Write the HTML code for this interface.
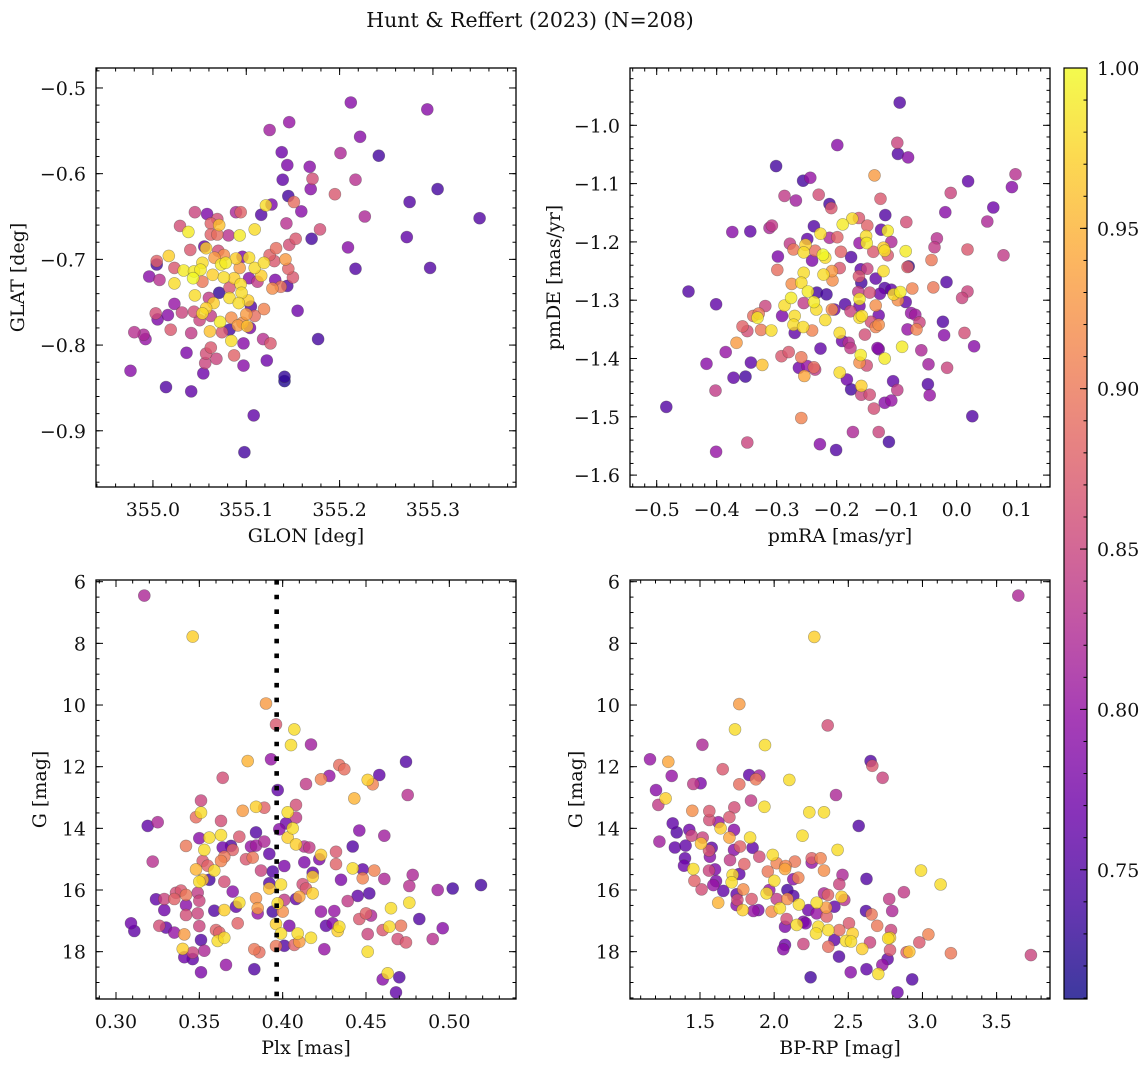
<!DOCTYPE html>
<html><head><meta charset="utf-8">
<style>
html,body{margin:0;padding:0;background:#fff;}
svg{display:block;font-family:"DejaVu Serif","Liberation Serif",serif;}
</style></head>
<body>
<svg id="fig" width="1148" height="1067" viewBox="0 0 1148 1067" xmlns="http://www.w3.org/2000/svg">
<text x="530" y="27" font-size="20.5" text-anchor="middle" fill="#111">Hunt &amp; Reffert (2023) (N=208)</text>
</svg>
<script>
// ---------- Panel 1: GLON / GLAT ----------
const p1Glon=[355.212,355.294,355.146,355.125,355.222,355.138,355.201,355.242,355.144,355.168,
355.139,355.171,355.217,355.169,355.305,355.195,355.145,355.151,355.275,355.159,
355.227,355.350,355.143,355.179,355.170,355.272,355.209,355.217,355.297,355.155,
355.177,355.141,355.141,355.108,355.098,354.976,355.014,355.041,355.054,355.097,
355.122,355.036,354.980,354.992,354.990,355.019,355.041,355.003,355.005,355.016,
355.023,355.031,354.996,355.007,355.004,355.004,355.017,355.023,355.023,355.033,
355.029,355.038,355.045,355.058,355.069,355.062,355.071,355.089,355.094,355.093,
355.109,355.116,355.121,355.127,355.081,355.062,355.069,355.040,355.055,355.057,
355.070,355.076,355.066,355.053,355.044,355.051,355.043,355.053,355.064,355.073,
355.078,355.089,355.096,355.103,355.093,355.109,355.119,355.125,355.132,355.142,
355.130,355.146,355.153,355.145,355.150,355.116,355.112,355.103,355.131,355.144,
355.128,355.137,355.076,355.087,355.094,355.082,355.071,355.095,355.045,355.060,
355.065,355.082,355.092,355.102,355.105,355.119,355.057,355.053,355.044,355.062,
355.050,355.072,355.084,355.100,355.109,355.096,355.091,355.101,355.104,355.082,
355.074,355.061,355.084,355.097,355.118,355.126,355.062,355.057,355.068,355.056,
355.087];
const p1Glat=[-0.517,-0.525,-0.540,-0.549,-0.557,-0.575,-0.576,-0.579,-0.590,-0.592,
-0.607,-0.606,-0.607,-0.618,-0.618,-0.624,-0.626,-0.633,-0.633,-0.644,
-0.650,-0.652,-0.658,-0.665,-0.676,-0.674,-0.686,-0.711,-0.710,-0.760,
-0.793,-0.837,-0.842,-0.882,-0.925,-0.830,-0.849,-0.854,-0.833,-0.824,
-0.818,-0.809,-0.785,-0.793,-0.788,-0.782,-0.786,-0.763,-0.770,-0.765,
-0.752,-0.762,-0.720,-0.724,-0.702,-0.706,-0.696,-0.710,-0.728,-0.713,
-0.661,-0.668,-0.645,-0.647,-0.653,-0.658,-0.660,-0.645,-0.645,-0.672,
-0.665,-0.648,-0.637,-0.636,-0.672,-0.671,-0.671,-0.689,-0.685,-0.687,
-0.690,-0.695,-0.698,-0.704,-0.714,-0.712,-0.722,-0.726,-0.718,-0.706,
-0.704,-0.699,-0.697,-0.698,-0.710,-0.710,-0.704,-0.695,-0.687,-0.700,
-0.702,-0.683,-0.676,-0.711,-0.721,-0.719,-0.726,-0.722,-0.724,-0.731,
-0.734,-0.732,-0.721,-0.722,-0.729,-0.733,-0.739,-0.739,-0.742,-0.745,
-0.751,-0.745,-0.751,-0.748,-0.755,-0.758,-0.757,-0.763,-0.761,-0.766,
-0.771,-0.773,-0.768,-0.764,-0.766,-0.774,-0.777,-0.778,-0.780,-0.782,
-0.785,-0.784,-0.795,-0.798,-0.793,-0.798,-0.803,-0.810,-0.816,-0.821,
-0.812];
const p1Prob=[.79,.79,.80,.81,.79,.77,.82,.74,.78,.79,
.76,.86,.83,.79,.74,.87,.74,.89,.75,.79,
.82,.75,.83,.86,.74,.76,.79,.75,.75,.77,
.74,.73,.72,.76,.74,.79,.75,.76,.77,.79,
.77,.78,.83,.80,.82,.87,.84,.86,.78,.79,
.80,.85,.79,.83,.88,.74,.97,.87,.98,.99,
.86,.99,.85,.78,.86,.88,.96,.82,.88,.99,
.98,.75,.98,.78,.83,.88,.89,.87,.76,.97,
.86,.92,.93,.98,.99,.99,1.0,.90,.97,.99,
.99,.97,.78,.98,.93,.98,.98,.88,.89,.93,
.87,.86,.87,.88,.87,.97,.84,.79,.78,.75,
.92,.90,.98,.97,.98,.87,.73,.98,.98,.84,
.97,.98,.98,.97,.75,.91,.97,.98,.86,.84,
.85,.99,.92,.93,.89,.92,.93,.96,.78,.74,
.87,.96,.98,.79,.83,.87,.87,.86,.85,.85,
.88];
const p1XTicks=[355.0,355.1,355.2,355.3];
const p1YTicks=[-0.5,-0.6,-0.7,-0.8,-0.9];

// ---------- Panel 2: pmRA / pmDE ----------
const p2PmRA=[-0.095,-0.199,-0.099,-0.098,-0.081,-0.301,-0.137,-0.256,-0.244,0.019,
0.098,0.092,-0.287,-0.268,-0.230,-0.010,-0.212,-0.209,-0.127,-0.119,
-0.019,0.061,0.051,-0.163,-0.174,-0.190,-0.149,-0.084,-0.374,-0.344,
-0.312,-0.308,-0.238,-0.227,-0.126,-0.115,-0.151,-0.199,-0.212,-0.249,
-0.278,-0.272,-0.252,-0.255,-0.236,-0.223,-0.219,-0.241,-0.193,-0.176,
-0.162,-0.150,-0.139,-0.122,-0.109,-0.115,-0.120,-0.085,-0.037,-0.033,
-0.042,0.018,0.078,-0.298,-0.299,-0.255,-0.222,-0.208,-0.207,-0.195,
-0.160,-0.149,-0.163,-0.159,-0.135,-0.122,-0.082,-0.080,-0.017,-0.275,
-0.259,-0.248,-0.233,-0.217,-0.164,-0.145,-0.128,-0.120,-0.109,-0.105,
-0.094,-0.098,-0.085,-0.074,-0.039,0.018,0.009,-0.276,-0.287,-0.255,
-0.238,-0.234,-0.208,-0.204,-0.186,-0.177,-0.162,-0.162,-0.135,-0.319,
-0.330,-0.339,-0.332,-0.291,-0.270,-0.272,-0.256,-0.219,-0.162,-0.158,
-0.143,-0.130,-0.130,-0.135,-0.076,-0.069,-0.062,-0.067,-0.082,-0.023,
-0.021,0.013,0.029,-0.357,-0.349,-0.326,-0.309,-0.270,-0.241,-0.195,
-0.191,-0.180,-0.177,-0.153,-0.132,-0.130,-0.091,-0.059,-0.367,-0.385,
-0.227,-0.160,-0.120,-0.162,-0.150,-0.292,-0.280,-0.259,-0.417,-0.343,
-0.324,-0.263,-0.249,-0.238,-0.236,-0.254,-0.047,-0.016,-0.372,-0.352,
-0.195,-0.183,-0.176,-0.159,-0.106,-0.099,-0.048,-0.045,-0.402,-0.159,
-0.145,-0.120,-0.109,-0.138,-0.484,-0.259,0.026,-0.173,-0.130,-0.349,
-0.228,-0.113,-0.201,-0.401,-0.447,-0.401];
const p2PmDE=[-0.961,-1.034,-1.030,-1.049,-1.055,-1.070,-1.086,-1.095,-1.090,-1.096,
-1.084,-1.106,-1.121,-1.129,-1.119,-1.116,-1.135,-1.142,-1.126,-1.154,
-1.149,-1.141,-1.165,-1.159,-1.160,-1.170,-1.172,-1.166,-1.183,-1.182,
-1.176,-1.172,-1.173,-1.186,-1.179,-1.181,-1.190,-1.192,-1.193,-1.195,
-1.203,-1.213,-1.205,-1.218,-1.215,-1.222,-1.227,-1.232,-1.217,-1.226,
-1.202,-1.202,-1.217,-1.210,-1.200,-1.223,-1.215,-1.216,-1.209,-1.194,
-1.231,-1.213,-1.223,-1.225,-1.248,-1.253,-1.256,-1.250,-1.266,-1.245,
-1.247,-1.246,-1.259,-1.270,-1.263,-1.250,-1.243,-1.242,-1.269,-1.272,
-1.270,-1.285,-1.287,-1.290,-1.286,-1.287,-1.289,-1.279,-1.282,-1.290,
-1.286,-1.300,-1.303,-1.280,-1.278,-1.285,-1.296,-1.296,-1.309,-1.305,
-1.303,-1.316,-1.316,-1.316,-1.307,-1.319,-1.298,-1.310,-1.309,-1.310,
-1.323,-1.327,-1.330,-1.327,-1.327,-1.342,-1.346,-1.334,-1.330,-1.327,
-1.337,-1.326,-1.342,-1.346,-1.322,-1.325,-1.338,-1.350,-1.350,-1.337,
-1.360,-1.356,-1.379,-1.345,-1.353,-1.351,-1.352,-1.356,-1.352,-1.356,
-1.370,-1.373,-1.382,-1.359,-1.382,-1.384,-1.380,-1.386,-1.373,-1.389,
-1.383,-1.394,-1.400,-1.407,-1.412,-1.396,-1.389,-1.398,-1.409,-1.407,
-1.411,-1.416,-1.413,-1.415,-1.419,-1.430,-1.410,-1.416,-1.433,-1.431,
-1.424,-1.436,-1.453,-1.447,-1.439,-1.454,-1.444,-1.463,-1.455,-1.462,
-1.462,-1.476,-1.472,-1.486,-1.483,-1.502,-1.499,-1.526,-1.526,-1.544,
-1.547,-1.543,-1.557,-1.560,-1.285,-1.307];
const p2Prob=[.75,.79,.85,.75,.79,.74,.93,.74,.80,.76,
.83,.79,.84,.81,.86,.85,.74,.87,.87,.75,
.79,.77,.82,.87,.98,.99,.88,.86,.79,.76,
.82,.84,.75,.98,.76,.99,.98,.88,.82,.76,
.84,.90,.97,.98,.89,1.0,.98,.78,.88,.75,
.80,.99,.87,.97,.82,.87,.98,.99,.84,.83,
.90,.87,.84,.78,.89,.98,.98,.93,.92,.87,
.76,.85,.87,.74,.76,.98,.88,.73,.75,.92,
.98,.99,.74,.74,.84,.86,.77,.75,.76,.98,
.99,.92,.76,.91,.90,.85,.85,.99,.98,.84,
.99,.98,.92,.77,.75,.85,.99,.77,.92,.85,
.90,.89,.99,.78,.98,.98,.98,.98,.98,.98,
.86,.77,.92,.91,.80,.81,.85,.91,.80,.75,
.79,.86,.79,.88,.86,.90,.98,.76,.91,.98,
.77,.83,.84,.86,.79,.78,.99,.82,.93,.80,
.76,.99,.99,.92,.86,.87,.87,.90,.79,.76,
.96,.77,.80,.89,.84,.94,.81,.85,.76,.74,
.98,.77,.74,.97,.76,.84,.75,.80,.84,.85,
.86,.79,.80,.86,.75,.91,.75,.82,.85,.85,
.79,.74,.75,.80,.75,.76];
const p2XTicks=[-0.5,-0.4,-0.3,-0.2,-0.1,0.0,0.1];
const p2YTicks=[-1.0,-1.1,-1.2,-1.3,-1.4,-1.5,-1.6];

// ---------- Panel 3: Plx / G ----------
const p3Plx=[.317,.346,.390,.396,.407,.405,.417,.379,.393,.474,
.364,.414,.428,.434,.437,.423,.458,.451,.454,.475,
.443,.397,.351,.351,.348,.376,.384,.389,.403,.408,
.408,.363,.319,.325,.402,.398,.406,.384,.350,.356,
.363,.374,.389,.403,.408,.446,.461,.342,.353,.364,
.370,.369,.381,.384,.392,.413,.416,.423,.422,.432,
.432,.442,.322,.352,.355,.363,.365,.378,.382,.348,
.359,.387,.394,.401,.413,.418,.418,.442,.448,.455,
.448,.461,.478,.435,.356,.350,.352,.365,.392,.392,
.399,.412,.414,.476,.493,.502,.519,.452,.445,.324,
.329,.336,.339,.342,.335,.349,.350,.370,.384,.401,
.408,.410,.418,.439,.342,.374,.372,.397,.476,.465,
.329,.359,.365,.385,.385,.394,.400,.423,.431,.342,
.349,.450,.453,.446,.482,.309,.311,.326,.330,.335,
.350,.373,.396,.404,.426,.430,.434,.433,.464,.471,
.460,.496,.341,.360,.362,.361,.365,.399,.409,.417,
.451,.351,.410,.407,.469,.474,.490,.396,.401,.383,
.386,.425,.451,.340,.341,.346,.346,.353,.366,.383,
.351,.463,.460,.470,.468];
const p3G=[6.45,7.78,9.95,10.63,10.79,11.30,11.28,11.82,11.76,11.84,
12.36,12.56,12.30,11.95,12.08,12.41,12.27,12.43,12.57,12.92,
13.03,12.76,13.10,13.49,13.64,13.43,13.30,13.33,13.48,13.24,
13.65,13.76,13.92,13.80,13.84,14.03,14.00,14.13,14.32,14.30,
14.22,14.27,14.43,14.30,14.52,14.07,14.24,14.57,14.70,14.62,
14.70,14.57,14.59,14.56,14.83,14.59,14.62,14.86,15.00,14.76,
15.16,14.59,15.08,15.06,15.21,15.06,14.92,15.00,14.95,15.33,
15.37,15.37,15.40,15.22,15.10,15.44,15.57,15.30,15.33,15.37,
15.62,15.64,15.51,15.67,15.67,15.73,15.67,15.73,15.78,15.95,
15.82,15.81,15.95,15.87,16.00,15.95,15.84,16.11,16.19,16.30,
16.29,16.09,16.02,16.16,16.29,16.09,16.35,16.05,16.27,16.32,
16.29,16.22,16.11,16.36,16.49,16.41,16.54,16.43,16.41,16.59,
16.65,16.67,16.65,16.59,16.76,16.70,16.70,16.70,16.68,16.81,
16.76,16.76,16.83,16.94,16.94,17.08,17.33,17.16,17.22,17.38,
17.17,17.08,17.10,17.16,17.16,17.08,17.19,17.33,17.19,17.16,
17.30,17.24,17.44,17.30,17.38,17.65,17.55,17.41,17.41,17.55,
17.43,17.62,17.68,17.78,17.59,17.70,17.59,17.82,17.81,17.92,
18.02,17.92,18.00,17.91,18.18,18.24,18.03,17.97,18.43,18.57,
18.67,18.70,18.90,18.83,19.32];
const p3Prob=[.82,.97,.93,.87,.98,.98,.81,.95,.80,.75,
.86,.84,.80,.89,.89,.91,.76,.97,.91,.83,
.95,.76,.85,.98,.89,.93,.97,.88,.98,.86,
.84,.86,.76,.82,.77,.79,.98,.75,.79,.98,
.98,.87,.82,.97,.97,.79,.81,.90,.98,.77,
.88,.75,.80,.81,.76,.83,.84,.97,.78,.87,
.88,.75,.83,.87,.88,.91,.90,.87,.90,.95,
.98,.85,.75,.78,.78,.76,.97,.98,.76,.91,
.91,.82,.82,.78,.74,.98,.96,.86,.75,.96,
.98,.86,.87,.83,.81,.74,.74,.75,.76,.76,
.85,.86,.87,.90,.88,.84,.85,.79,.92,.84,
.76,.94,.97,.84,.79,.98,.76,.98,.98,.98,
.77,.75,.97,.93,.80,.74,.92,.80,.80,.86,
.85,.88,.82,.87,.75,.77,.76,.86,.76,.80,
.85,.88,.97,.78,.76,.79,.98,.97,.98,.90,
.87,.79,.93,.88,.88,.98,.98,.98,.98,.98,
.85,.75,.93,.88,.86,.87,.83,.90,.75,.90,
.89,.80,.98,.97,.77,.76,.85,.82,.80,.75,
.78,.98,.79,.75,.76];
const p3RefLine=[0.3964];
const p3XTicks=[0.30,0.35,0.40,0.45,0.50];
const gTicks=[6,8,10,12,14,16,18];

// ---------- Panel 4: BP-RP / G ----------
const p4BpRp=[3.646,2.271,1.765,1.736,2.361,1.938,1.516,1.163,1.286,2.650,
2.662,2.731,1.653,1.309,1.832,1.900,1.877,1.765,2.102,1.455,
1.504,1.203,1.268,1.219,1.844,1.934,2.417,2.237,2.336,1.731,
1.448,1.563,1.563,1.698,1.624,1.316,2.570,1.343,1.428,1.729,
1.639,1.444,1.518,1.698,1.838,2.191,1.226,1.331,1.403,1.507,
1.579,1.561,1.770,1.855,1.729,2.428,1.399,1.567,1.702,1.900,
1.990,1.799,2.017,2.077,2.140,2.253,2.253,2.313,1.392,1.455,
1.601,1.561,1.765,1.720,1.957,2.073,2.336,2.461,2.623,2.990,
3.122,1.462,1.713,1.608,2.001,2.129,2.163,2.439,1.511,1.590,
1.657,1.792,1.949,1.967,2.089,2.336,2.363,2.455,2.875,2.776,
1.747,1.752,1.848,2.017,2.089,2.129,1.623,1.747,2.167,2.287,
2.350,2.406,2.473,1.788,1.860,1.893,1.983,2.039,2.230,2.287,
2.619,2.657,2.796,2.084,2.197,2.152,2.212,2.298,2.354,2.365,
2.282,2.439,2.505,2.529,2.695,2.788,2.073,2.484,2.518,2.646,
2.769,2.781,3.040,2.979,2.197,2.073,2.062,2.365,2.406,2.594,
2.781,2.911,2.893,3.192,3.731,2.437,2.765,2.729,2.702,2.623,
2.516,2.246,2.931,2.832];
const p4G=[6.45,7.79,9.97,10.79,10.66,11.30,11.29,11.76,11.84,11.82,
11.97,12.36,12.08,12.30,12.27,12.29,12.41,12.57,12.43,12.56,
12.54,12.76,13.03,13.24,13.10,13.30,12.92,13.48,13.48,13.32,
13.43,13.44,13.73,13.64,13.80,13.84,13.92,14.13,14.05,14.05,
14.00,14.24,14.30,14.30,14.30,14.24,14.43,14.62,14.56,14.49,
14.63,14.72,14.59,14.63,14.70,14.70,14.97,14.92,15.03,14.92,
14.86,15.16,15.13,15.22,15.08,14.97,15.11,14.97,15.21,15.32,
15.33,15.37,15.48,15.51,15.40,15.32,15.37,15.51,15.64,15.37,
15.82,15.70,15.75,15.71,15.70,15.65,15.60,15.81,15.98,15.84,
16.03,15.98,16.11,16.00,16.00,16.11,16.16,16.22,16.07,16.29,
16.14,16.32,16.29,16.29,16.29,16.19,16.41,16.49,16.47,16.41,
16.57,16.54,16.32,16.65,16.68,16.65,16.70,16.59,16.65,16.76,
16.68,16.79,16.68,16.94,17.03,17.13,17.08,17.19,16.86,17.30,
17.41,17.30,17.08,17.41,17.16,17.30,17.19,17.65,17.67,17.70,
17.57,17.55,17.44,17.70,17.75,17.78,17.92,17.84,17.62,17.91,
17.95,18.00,18.02,18.05,18.11,18.16,18.24,18.43,18.72,18.57,
18.67,18.83,18.90,19.32];
const p4Prob=[.82,.97,.93,.98,.86,.98,.82,.80,.94,.75,
.87,.85,.87,.80,.76,.81,.90,.89,.98,.84,
.78,.79,.97,.84,.84,.98,.82,.98,.98,.86,
.92,.87,.86,.87,.80,.76,.75,.75,.77,.79,
.97,.85,.85,.94,.98,.98,.81,.76,.76,.96,
.76,.87,.88,.76,.79,.98,.76,.79,.84,.86,
.98,.88,.91,.91,.90,.88,.80,.91,.77,.98,
.78,.85,.76,.98,.90,.94,.92,.82,.75,.98,
.98,.88,.98,.78,.98,.79,.91,.85,.86,.80,
.76,.92,.98,.80,.74,.82,.88,.97,.84,.84,
.76,.86,.87,.84,.92,.75,.95,.79,.98,.98,
.93,.76,.83,.97,.80,.78,.92,.98,.77,.80,
.75,.90,.82,.86,.78,.98,.78,.98,.88,.98,
.98,.89,.87,.97,.90,.85,.78,.98,.98,.85,
.98,.97,.91,.87,.85,.77,.79,.89,.76,.97,
.87,.96,.88,.90,.85,.75,.76,.80,.98,.76,
.79,.74,.75,.77];
const p4XTicks=[1.5,2.0,2.5,3.0,3.5];

// ---------- Colorbar ----------
const cbTicks=[0.75,0.80,0.85,0.90,0.95,1.00];
const cbRange=[0.7097,1.0];

const NS='http://www.w3.org/2000/svg';
const svg=document.getElementById('fig');
function mk(tag,attrs,parent){const e=document.createElementNS(NS,tag);for(const k in attrs)e.setAttribute(k,attrs[k]);(parent||svg).appendChild(e);return e;}

const plasmaStops=[[13,8,135],[65,4,157],[106,0,168],[143,13,164],[177,42,144],[204,71,120],[225,100,98],[242,132,75],[252,166,54],[252,206,37],[240,249,33]];
function plasma(t){t=Math.max(0,Math.min(1,t));const s=t*10;const i=Math.min(9,Math.floor(s));const f=s-i;const a=plasmaStops[i],b=plasmaStops[i+1];
return 'rgb('+Math.round(a[0]+(b[0]-a[0])*f)+','+Math.round(a[1]+(b[1]-a[1])*f)+','+Math.round(a[2]+(b[2]-a[2])*f)+')';}
function colorOf(p){return plasma((p-cbRange[0])/(cbRange[1]-cbRange[0]));}
function fmtNum(v,d){const s=Math.abs(v).toFixed(d);return (v<-1e-9?'\u2212':'')+s;}

function panel(c){
  const g=mk('g',{});
  
  
  const sx=v=>c.x0+(v-c.xL)/(c.xR-c.xL)*c.w;
  const sy=v=>c.y0+(v-c.yT)/(c.yB-c.yT)*c.h;
  const clip=mk('clipPath',{id:'clip-'+c.name},g);
  mk('rect',{x:c.x0,y:c.y0,width:c.w,height:c.h},clip);
  const pg=mk('g',{'clip-path':'url(#clip-'+c.name+')'},g);
  
  
  const idx=c.xs.map((_,i)=>i).sort((a,b)=>c.ps[a]-c.ps[b]);
  for(const i of idx){
    const pt=mk('circle',{cx:sx(c.xs[i]).toFixed(1),cy:sy(c.ys[i]).toFixed(1),r:6,fill:colorOf(c.ps[i]),'fill-opacity':0.8,stroke:'#404040','stroke-opacity':0.45,'stroke-width':0.6},pg);
    
    
  }
  if(c.vline){
    for(const v of c.vline){
      const ln=mk('line',{x1:sx(v),x2:sx(v),y1:c.y0,y2:c.y0+c.h,stroke:'#000','stroke-width':4.6,'stroke-dasharray':'4.6 10.1'},pg);
      
      
    }
  }
  const ax=mk('g',{stroke:'#000','stroke-width':1},g);
  
  
  // minor ticks
  const lo=Math.min(c.xL,c.xR),hi=Math.max(c.xL,c.xR);
  for(let k=Math.ceil(lo/c.xMinor-1e-6);k*c.xMinor<=hi+1e-9;k++){const X=sx(k*c.xMinor);
    mk('line',{x1:X,x2:X,y1:c.y0+c.h,y2:c.y0+c.h-3.5},ax);mk('line',{x1:X,x2:X,y1:c.y0,y2:c.y0+3.5},ax);}
  const ylo=Math.min(c.yT,c.yB),yhi=Math.max(c.yT,c.yB);
  for(let k=Math.ceil(ylo/c.yMinor-1e-6);k*c.yMinor<=yhi+1e-9;k++){const Y=sy(k*c.yMinor);
    mk('line',{x1:c.x0,x2:c.x0+3.5,y1:Y,y2:Y},ax);mk('line',{x1:c.x0+c.w,x2:c.x0+c.w-3.5,y1:Y,y2:Y},ax);}
  for(const v of c.xTicks){const X=sx(v);
    mk('line',{x1:X,x2:X,y1:c.y0+c.h,y2:c.y0+c.h-7},ax);mk('line',{x1:X,x2:X,y1:c.y0,y2:c.y0+7},ax);
    const t=mk('text',{x:X,y:c.y0+c.h+29,'font-size':19,'text-anchor':'middle',fill:'#111',stroke:'none'},g);t.textContent=fmtNum(v,c.xd);
    }
  for(const v of c.yTicks){const Y=sy(v);
    mk('line',{x1:c.x0,x2:c.x0+7,y1:Y,y2:Y},ax);mk('line',{x1:c.x0+c.w,x2:c.x0+c.w-7,y1:Y,y2:Y},ax);
    const t=mk('text',{x:c.x0-10,y:Y+7,'font-size':19,'text-anchor':'end',fill:'#111',stroke:'none'},g);t.textContent=fmtNum(v,c.yd);
    }
  const fr=mk('rect',{x:c.x0,y:c.y0,width:c.w,height:c.h,fill:'none',stroke:'#000','stroke-width':1.3},g);
  
  const xl=mk('text',{x:c.x0+c.w/2,y:c.y0+c.h+55,'font-size':19,'text-anchor':'middle',fill:'#111'},g);xl.textContent=c.xlabel;
  
  const yl=mk('text',{x:0,y:0,'font-size':19,'text-anchor':'middle',fill:'#111',transform:'translate('+c.ylx+','+(c.y0+c.h/2)+') rotate(-90)'},g);yl.textContent=c.ylabel;
  
}

panel({name:'panel-glon-glat',x0:96,y0:68,w:420,h:419,xL:354.939,xR:355.389,yT:-0.4767,yB:-0.9656,
  xs:p1Glon,ys:p1Glat,ps:p1Prob,xTicks:p1XTicks,yTicks:p1YTicks,xMinor:0.02,yMinor:0.02,xd:1,yd:1,
  xlabel:'GLON [deg]',ylabel:'GLAT [deg]',ylx:24});
panel({name:'panel-pmra-pmde',x0:630,y0:68,w:420,h:419,xL:-0.5445,xR:0.1555,yT:-0.9017,yB:-1.6204,
  xs:p2PmRA,ys:p2PmDE,ps:p2Prob,xTicks:p2XTicks,yTicks:p2YTicks,xMinor:0.02,yMinor:0.02,xd:1,yd:1,
  xlabel:'pmRA [mas/yr]',ylabel:'pmDE [mas/yr]',ylx:560});
panel({name:'panel-plx-g',x0:96,y0:580,w:420,h:419,xL:0.288,xR:0.540,yT:5.945,yB:19.535,
  xs:p3Plx,ys:p3G,ps:p3Prob,xTicks:p3XTicks,yTicks:gTicks,xMinor:0.01,yMinor:0.5,xd:2,yd:0,
  xlabel:'Plx [mas]',ylabel:'G [mag]',ylx:46,vline:p3RefLine});
panel({name:'panel-bprp-g',x0:630,y0:580,w:420,h:419,xL:1.028,xR:3.860,yT:5.945,yB:19.535,
  xs:p4BpRp,ys:p4G,ps:p4Prob,xTicks:p4XTicks,yTicks:gTicks,xMinor:0.1,yMinor:0.5,xd:1,yd:0,
  xlabel:'BP-RP [mag]',ylabel:'G [mag]',ylx:582});

// colorbar
(function(){
  const x0=1064,y0=68,w=23,h=931;
  const g=mk('g',{});
  
  
  const defs=mk('defs',{},g);
  const lg=mk('linearGradient',{id:'cbgrad',x1:0,y1:1,x2:0,y2:0},defs);
  for(let i=0;i<=20;i++){mk('stop',{offset:(i/20),'stop-color':plasma(i/20),'stop-opacity':0.8},lg);}
  const r=mk('rect',{x:x0,y:y0,width:w,height:h,fill:'url(#cbgrad)',stroke:'#000','stroke-width':1.2},g);
  
  const sy=v=>y0+(cbRange[1]-v)/(cbRange[1]-cbRange[0])*h;
  for(let k=Math.ceil(cbRange[0]*100);k<=100;k++){const Y=sy(k/100);mk('line',{x1:x0+w,x2:x0+w-3.5,y1:Y,y2:Y,stroke:'#000','stroke-width':1},g);}
  for(const v of cbTicks){const Y=sy(v);
    mk('line',{x1:x0+w,x2:x0+w-7,y1:Y,y2:Y,stroke:'#000','stroke-width':1},g);
    const t=mk('text',{x:x0+w+10,y:Y+7,'font-size':19,fill:'#111'},g);t.textContent=v.toFixed(2);
    }
})();
</script>
</body></html>
